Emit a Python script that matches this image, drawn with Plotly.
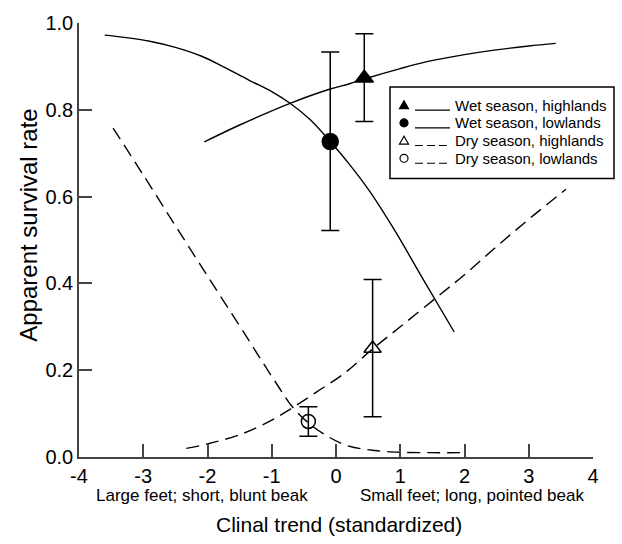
import plotly.graph_objects as go

# ---------------- data ----------------
x_ticks = [-4, -3, -2, -1, 0, 1, 2, 3, 4]
y_ticks = [0.0, 0.2, 0.4, 0.6, 0.8, 1.0]

# fitted curves
wet_high_x = [-2.05, -1.5, -0.715, -0.09, 0.21, 0.44, 1.0, 1.45, 2.0, 2.49, 3.0, 3.42]
wet_high_y = [0.726, 0.765, 0.815, 0.848, 0.860, 0.871, 0.895, 0.912, 0.927, 0.938, 0.947, 0.953]

wet_low_x = [-3.6, -3.3, -2.9, -2.5, -2.1, -1.75, -1.35, -1.0, -0.715, -0.4, -0.09, 0.2, 0.52, 0.93, 1.35, 1.84]
wet_low_y = [0.972, 0.967, 0.958, 0.944, 0.924, 0.899, 0.868, 0.842, 0.815, 0.777, 0.727, 0.676, 0.613, 0.518, 0.411, 0.288]

dry_high_x = [-2.33, -2.0, -1.45, -1.0, -0.67, -0.3, 0.13, 0.57, 1.0, 1.56, 2.0, 2.5, 3.01, 3.58]
dry_high_y = [0.020, 0.030, 0.054, 0.085, 0.114, 0.150, 0.193, 0.249, 0.300, 0.367, 0.420, 0.485, 0.549, 0.617]

dry_low_x = [-3.47, -3.0, -2.5, -2.0, -1.5, -1.2, -0.9, -0.67, -0.4, -0.1, 0.2, 0.6, 1.0, 1.5, 2.0]
dry_low_y = [0.758, 0.650, 0.533, 0.417, 0.302, 0.232, 0.163, 0.114, 0.075, 0.045, 0.025, 0.015, 0.011, 0.010, 0.010]

# observed estimates with error bars
pt_x = [0.44, -0.09, 0.57, -0.43]
pt_y = [0.873, 0.727, 0.250, 0.082]
pt_hi = [0.975, 0.933, 0.409, 0.116]
pt_lo = [0.773, 0.522, 0.093, 0.048]

labels = ["Wet season, highlands", "Wet season, lowlands",
          "Dry season, highlands", "Dry season, lowlands"]

# ---------------- layout helpers ----------------
W, H = 622, 544
L, R, T, B = 79, 29, 16, 87
PW, PH = W - L - R, H - T - B
FONT = "Arial, Liberation Sans, sans-serif"


def px(x):
    return (x - L) / PW


def py(y):
    return (H - B - y) / PH


fig = go.Figure()

curve_specs = [
    (wet_high_x, wet_high_y, "solid"),
    (wet_low_x, wet_low_y, "solid"),
    (dry_high_x, dry_high_y, "13px,7px"),
    (dry_low_x, dry_low_y, "13px,7px"),
]
for cx, cy, dash in curve_specs:
    fig.add_trace(go.Scatter(x=cx, y=cy, mode="lines", line_shape="spline",
                             line=dict(color="black", width=1.4, dash=dash),
                             hoverinfo="skip", showlegend=False))

symbols = ["triangle-up", "circle", "triangle-up-open", "circle-open"]
sizes = [16, 16, 15, 14]
for i in range(4):
    fig.add_trace(go.Scatter(
        x=[pt_x[i]], y=[pt_y[i]], mode="markers",
        marker=dict(symbol=symbols[i], size=sizes[i], color="black",
                    line=dict(color="black", width=1.5)),
        error_y=dict(type="data", symmetric=False,
                     array=[pt_hi[i] - pt_y[i]], arrayminus=[pt_y[i] - pt_lo[i]],
                     color="black", thickness=1.5, width=9),
        showlegend=False))

# ---------------- manual legend ----------------
shapes = []
annotations = []
bx0, bx1, by0, by1 = 390, 614, 81, 174
shapes.append(dict(type="rect", xref="paper", yref="paper",
                   x0=px(bx0), x1=px(bx1), y0=py(by1), y1=py(by0),
                   line=dict(color="black", width=1.5), fillcolor="white", layer="above"))
rows = [99.5, 117.5, 135.5, 153.5]
mx = 404
for i, row in enumerate(rows):
    filled = i < 2
    if i % 2 == 0:
        path = "M {},{} L {},{} L {},{} Z".format(
            px(mx - 4.5), py(row + 3.5), px(mx + 4.5), py(row + 3.5), px(mx), py(row - 4.5))
        shapes.append(dict(type="path", xref="paper", yref="paper", path=path,
                           fillcolor="black" if filled else "white",
                           line=dict(color="black", width=1.2), layer="above"))
    else:
        shapes.append(dict(type="circle", xref="paper", yref="paper",
                           x0=px(mx - 4), x1=px(mx + 4), y0=py(row + 4), y1=py(row - 4),
                           fillcolor="black" if filled else "white",
                           line=dict(color="black", width=1.2), layer="above"))
    shapes.append(dict(type="line", xref="paper", yref="paper",
                       x0=px(415), x1=px(450), y0=py(row + 5), y1=py(row + 5),
                       line=dict(color="black", width=1.2,
                                 dash="solid" if filled else "8px,4px"),
                       layer="above"))
    annotations.append(dict(xref="paper", yref="paper", x=px(453), y=py(row),
                            xanchor="left", yanchor="middle", showarrow=False,
                            text=labels[i], font=dict(family=FONT, size=15, color="black")))

# axis labels
annotations.append(dict(xref="paper", yref="paper", x=px(29), y=py(222), textangle=-90,
                        xanchor="center", yanchor="middle", showarrow=False,
                        text="Apparent survival rate",
                        font=dict(family=FONT, size=24, color="black")))
annotations.append(dict(xref="paper", yref="paper", x=px(202), y=py(496),
                        xanchor="center", yanchor="middle", showarrow=False,
                        text="Large feet; short, blunt beak",
                        font=dict(family=FONT, size=17, color="black")))
annotations.append(dict(xref="paper", yref="paper", x=px(472), y=py(496),
                        xanchor="center", yanchor="middle", showarrow=False,
                        text="Small feet; long, pointed beak",
                        font=dict(family=FONT, size=17, color="black")))
annotations.append(dict(xref="paper", yref="paper", x=px(339), y=py(526),
                        xanchor="center", yanchor="middle", showarrow=False,
                        text="Clinal trend (standardized)",
                        font=dict(family=FONT, size=21, color="black")))

axis_common = dict(showgrid=False, zeroline=False, showline=True,
                   linecolor="#444444", linewidth=1.5,
                   ticks="inside", ticklen=13, tickwidth=1.5, tickcolor="#444444",
                   tickfont=dict(family=FONT, size=20, color="black"), mirror=False)

fig.update_layout(
    width=W, height=H,
    margin=dict(l=L, r=R, t=T, b=B),
    plot_bgcolor="white", paper_bgcolor="white",
    showlegend=False,
    xaxis=dict(range=[-4, 4], tickvals=x_ticks, ticktext=[str(v) for v in x_ticks], **axis_common),
    yaxis=dict(range=[0, 1.0], tickvals=y_ticks, tickformat=".1f", **axis_common),
    shapes=shapes,
    annotations=annotations,
)

fig.write_html("out.html")
